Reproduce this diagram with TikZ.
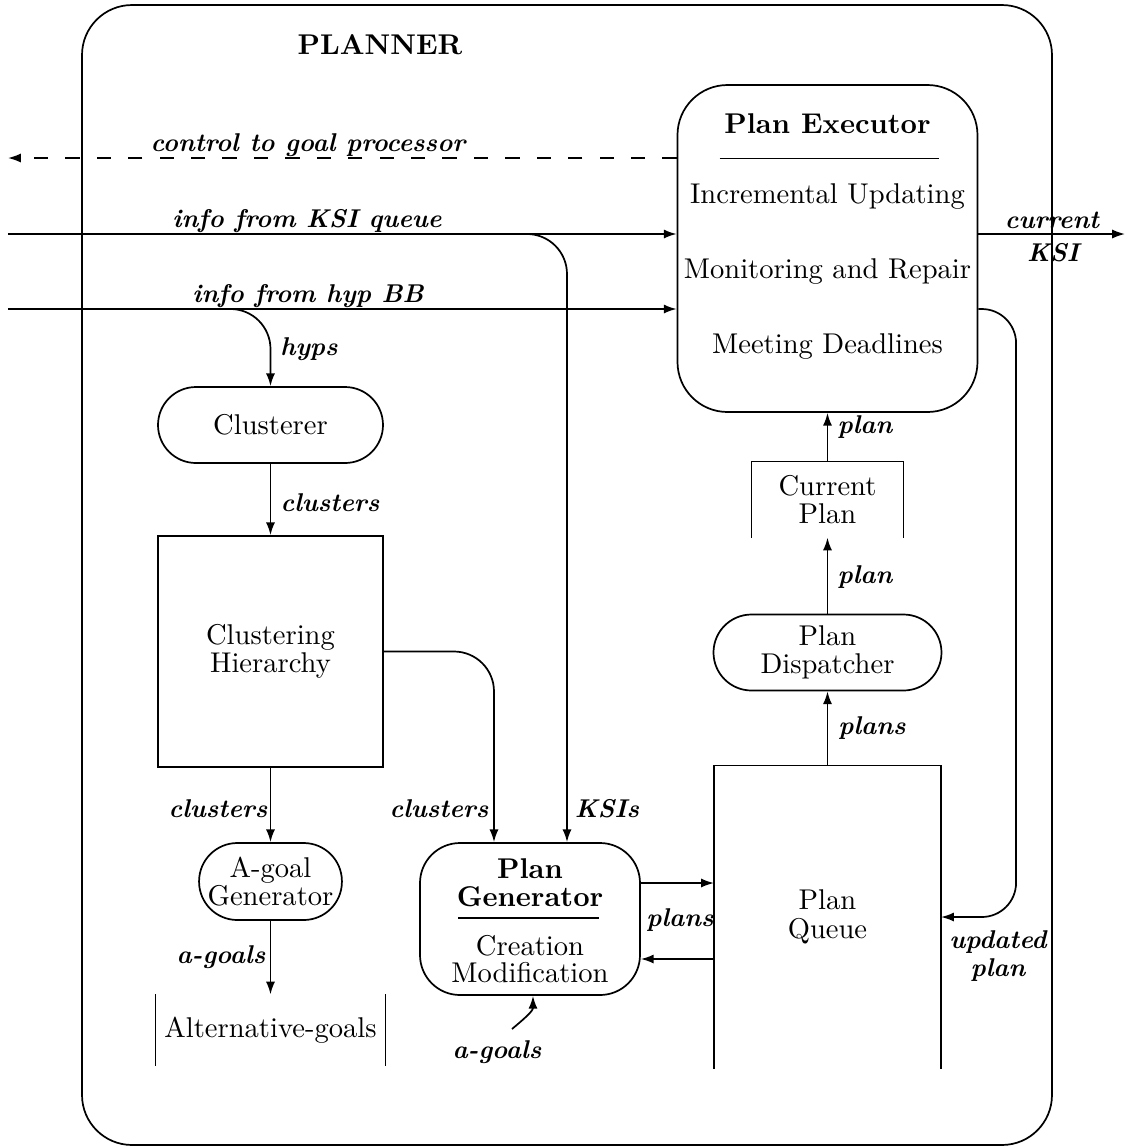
\documentclass[tikz,border=0pt]{standalone}
\usepackage{fontspec}
\usetikzlibrary{calc,arrows.meta}
\begin{document}
\begin{tikzpicture}[x=0.35pt, y=-0.35pt,
  ln/.style={line width=0.6pt},
  arr/.style={line width=0.6pt, -{Latex[length=4.5pt,width=3.2pt]}},
  dsh/.style={arr, dash pattern=on 5pt off 6pt},
  lbl/.style={font=\fontsize{9}{10}\selectfont\bfseries\itshape, inner sep=1pt, align=center},
  txt/.style={font=\fontsize{10}{10}\selectfont, inner sep=0pt, align=center},
  ttl/.style={font=\fontsize{10}{10}\selectfont\bfseries, inner sep=0pt, align=center},
  box/.style={draw, line width=0.6pt, inner sep=0pt, align=center, font=\fontsize{10}{10}\selectfont},
  store/.style={inner sep=0pt, align=center, font=\fontsize{10}{10}\selectfont},
]
\useasboundingbox (0,0) rectangle (1129,1148);

% outer planner frame
\node[box, minimum width=339.5pt, minimum height=399pt, rounded corners=17.5pt] (planner) at (567,575) {};
\node[ttl] (plannertitle) at (380,45) {PLANNER};

% plan executor
\node[box, minimum width=105pt, minimum height=114.45pt, rounded corners=17.5pt] (exec) at (827.5,248.5) {};
\node[ttl] (exect) at (827.5,124) {Plan Executor};
\draw[ln] ($(exec.center)+(-108,-90)$) -- ($(exec.center)+(111,-90)$);
\node[txt] (exec1) at (827.5,197) {Incremental Updating};
\node[txt] (exec2) at (827.5,272) {Monitoring and Repair};
\node[txt] (exec3) at (827.5,347) {Meeting Deadlines};

% left column
\node[box, minimum width=78.75pt, minimum height=26.6pt, rounded corners=13.3pt] (clusterer) at (270.5,425) {Clusterer};
\node[box, minimum width=78.75pt, minimum height=80.85pt] (hier) at (270.5,651.5) {Clustering\\Hierarchy};
\node[box, minimum width=50pt, minimum height=26.95pt, rounded corners=13.4pt] (agoal) at (270.5,881.5) {A-goal\\Generator};
\node[store, minimum width=80.15pt, minimum height=24.5pt] (altgoals) at (270.5,1030) {Alternative-goals};
\draw[ln] (altgoals.north west) -- (altgoals.south west);
\draw[ln] (altgoals.north east) -- (altgoals.south east);

% plan generator
\node[box, minimum width=77pt, minimum height=53.2pt, rounded corners=14pt] (plangen) at (530,919) {};
\node[ttl] (pgt1) at (530,869) {Plan};
\node[ttl] (pgt2) at (530,897) {Generator};
\draw[ln] ($(plangen.center)+(-72,-1)$) -- ($(plangen.center)+(69,-1)$);
\node[txt] (pgt3) at (530,946) {Creation};
\node[txt] (pgt4) at (530,973) {Modification};

% right column
\node[store, minimum width=79.1pt, minimum height=105.7pt] (pq) at (827.5,917) {Plan\\Queue};
\draw[ln] (pq.south west) -- (pq.north west) -- (pq.north east) -- (pq.south east);
\node[box, minimum width=79.8pt, minimum height=26.6pt, rounded corners=13.3pt] (disp) at (827.5,652.5) {Plan\\Dispatcher};
\node[store, minimum width=52.85pt, minimum height=26.25pt] (cp) at (827.5,499.5) {Current\\Plan};
\draw[ln] (cp.south west) -- (cp.north west) -- (cp.north east) -- (cp.south east);

% external flows
\coordinate (ctrlL) at (8,158);
\coordinate (ksiL) at (8,234);
\coordinate (hypL) at (8,309);
\coordinate (ksiR) at (1125,234);
\coordinate (ksib) at (522,234);
\coordinate (hypb) at (225,309);
\draw[dsh] (ctrlL -| exec.west) -- (ctrlL);
\draw[arr] (ksiL) -- (ksiL -| exec.west);
\draw[arr] (hypL) -- (hypL -| exec.west);
\draw[arr] (ksiL -| exec.east) -- (ksiR);
\node[lbl] (lctrl) at (308,145) {control to goal processor};
\node[lbl] (lksi) at (307,221) {info from KSI queue};
\node[lbl] (lhyp) at (308,296) {info from hyp BB};
\node[lbl] (lcur) at (1052,220) {current};
\node[lbl] (lcksi) at (1053,253) {KSI};

% internal flows
\draw[arr, rounded corners=14pt] (hypb) -| (clusterer.north);
\node[lbl] (lhyps) at (309,349) {hyps};
\draw[arr] (clusterer.south) -- (hier.north);
\node[lbl] (lcl1) at (330,503) {clusters};
\draw[arr] (hier.south) -- (agoal.north);
\node[lbl] (lcl2) at (218,809) {clusters};
\draw[arr] (agoal.south) -- (altgoals.north);
\node[lbl] (lag1) at (221,957) {a-goals};
\draw[arr, rounded corners=14pt] (hier.east) -| ($(plangen.north)+(-36,0)$);
\node[lbl] (lcl3) at (439,809) {clusters};
\draw[arr, rounded corners=14pt] (ksib) -| ($(plangen.north)+(37,0)$);
\node[lbl] (lksis) at (607,809) {KSIs};

\node[lbl] (lag2) at (497,1052) {a-goals};
\coordinate (ags) at (512,1029);
\draw[arr] (ags) to[out=40,in=-90] ($(plangen.south)+(3,0)$);

\coordinate (pgo) at ($(plangen.east)+(0,-36)$);
\coordinate (pgi) at ($(plangen.east)+(0,40)$);
\draw[arr] (pgo) -- (pgo -| pq.west);
\draw[arr] (pgi -| pq.west) -- (pgi);
\node[lbl] (lplans1) at (680,920) {plans};

\draw[arr] (pq.north) -- (disp.south);
\node[lbl] (lplans2) at (872,728) {plans};
\draw[arr] (disp.north) -- (cp.south);
\node[lbl] (lplan1) at (865,577) {plan};
\draw[arr] (cp.north) -- (exec.south);
\node[lbl] (lplan2) at (865,427) {plan};

\coordinate (uo) at ($(exec.east)+(0,60.5)$);
\draw[arr, rounded corners=12pt] (uo) -| ($(pq.east)+(75,0)$) -- (pq.east);
\node[lbl] (lupd) at (998,956) {updated\\plan};
\end{tikzpicture}
\end{document}
